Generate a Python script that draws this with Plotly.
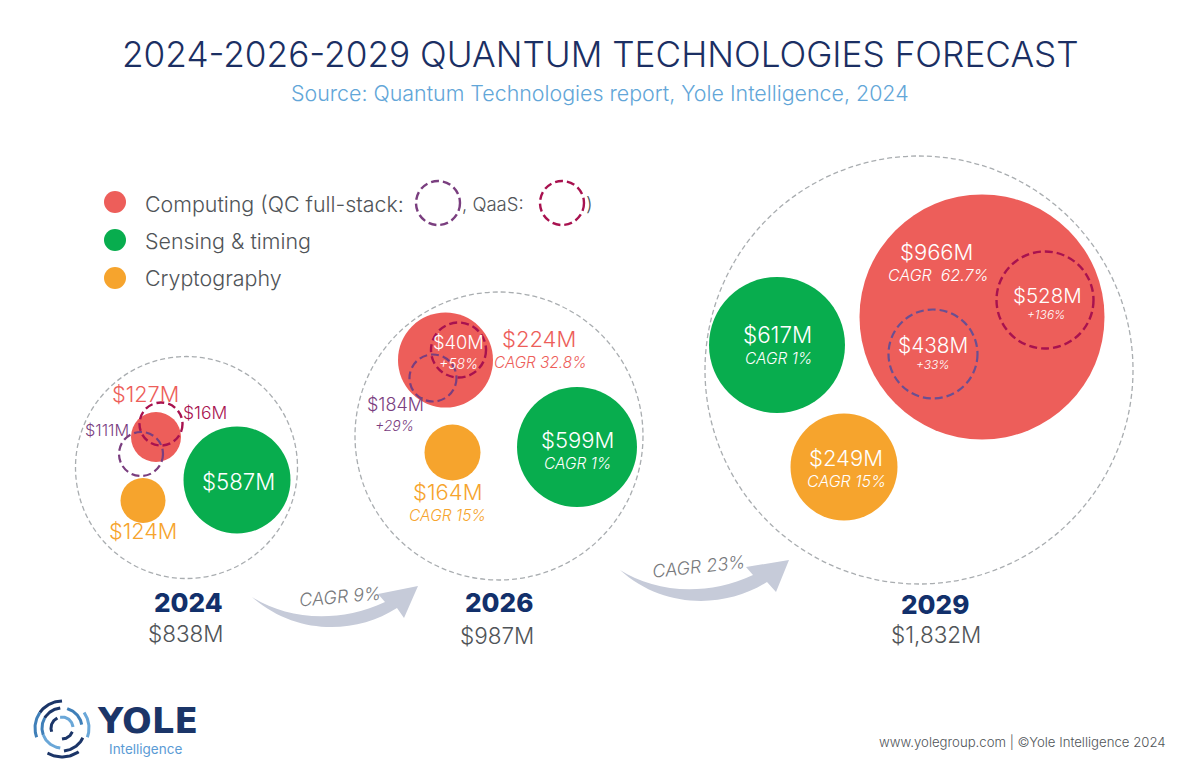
import numpy as np
import plotly.graph_objects as go

# ── values ──
years = ["2024", "2026", "2029"]
totals = ["$838M", "$987M", "$1,832M"]
computing = [127, 224, 966]
sensing = [587, 599, 617]
cryptography = [124, 164, 249]
qc_full_stack = [111, 184, 438]
qaas = [16, 40, 528]
legend_names = ["Computing (QC full-stack:", "Sensing & timing", "Cryptography"]
total_cagr = ["CAGR 9%", "CAGR 23%"]

# ── bubble placement in page pixels (x, y, diameter) ──
computing_pos = [(156, 437, 50), (445.5, 360, 95), (982, 317, 245)]
sensing_pos = [(237, 480, 107), (577, 447, 120), (777, 345, 136)]
crypto_pos = [(143, 500.5, 45), (452.5, 452.5, 56), (844, 467, 107)]
qc_pos = [(141, 454, 44), (433, 378, 47), (933, 354, 89)]
qaas_pos = [(161, 424, 43), (458.5, 350, 55), (1045, 300, 97)]
outer_pos = [(186.5, 467.5, 222), (499, 436, 288), (919, 370, 428)]

RED = "#ed5e5a"
GREEN = "#08ad4e"
ORANGE = "#f6a42d"
PURPLE = "#7a3e7f"
CRIMSON = "#a8124f"
NAVY = "#1b2f63"
GREY_TEXT = "#505458"
FONT = "Inter"

fig = go.Figure()


def bolas(pos, color):
    fig.add_trace(go.Scatter(
        x=[p[0] for p in pos], y=[p[1] for p in pos], mode="markers",
        marker=dict(size=[p[2] for p in pos], color=color, opacity=1, line_width=0),
        hoverinfo="skip", showlegend=False,
    ))


def aro(x, y, d, color, width, dash):
    fig.add_shape(type="circle", xref="x", yref="y",
                  x0=x - d / 2, x1=x + d / 2, y0=y - d / 2, y1=y + d / 2,
                  line=dict(color=color, width=width, dash=dash), layer="above")


def texto(x, y, s, size, color, italic=False, weight=300, anchor="center", angle=0, family=FONT):
    fig.add_annotation(
        x=x, y=y, xref="x", yref="y", text=s, showarrow=False, xanchor=anchor,
        yanchor="middle", textangle=angle,
        font=dict(family=family, size=size, color=color, weight=weight,
                  style="italic" if italic else "normal"),
    )


def arco(r, a0, a1, color, width=3):
    # trocito del logo
    t = np.radians(np.linspace(a0, a1, 30))
    fig.add_trace(go.Scatter(
        x=62 + r * np.cos(t), y=728 - r * np.sin(t), mode="lines",
        line=dict(color=color, width=width), hoverinfo="skip", showlegend=False,
    ))


# ── circles ──
bolas(computing_pos, RED)
bolas(sensing_pos, GREEN)
bolas(crypto_pos, ORANGE)
bolas([(115, 202, 22)], RED)
bolas([(115, 240, 22)], GREEN)
bolas([(115, 278, 22)], ORANGE)

for x, y, d in outer_pos:
    aro(x, y, d, "#a9adb0", 1.3, "5px,3px")
for i, (x, y, d) in enumerate(qc_pos):
    aro(x, y, d, PURPLE if i < 2 else "#6a4f92", 2.2, "8px,4px")
for x, y, d in qaas_pos:
    aro(x, y, d, CRIMSON, 2.4, "8px,4px")
aro(438, 203, 44, PURPLE, 2.4, "8px,4px")
aro(562, 203, 44, CRIMSON, 2.4, "8px,4px")

# ── growth arrows ──
fig.add_shape(type="path", xref="x", yref="y", fillcolor="#c6cbd9", line_width=0,
              path="M252,597 C285,618 335,625 385,602 L378,594 L418,586 L404,618 "
                   "L397,608 C355,635 295,635 252,597 Z")
fig.add_shape(type="path", xref="x", yref="y", fillcolor="#c6cbd9", line_width=0,
              path="M620,570 C653,591 703,598 753,575 L746,567 L789,560 L776,592 "
                   "L767,582 C725,609 663,609 620,570 Z")

# ── header and legend ──
texto(600, 54, "2024-2026-2029 QUANTUM TECHNOLOGIES FORECAST", 35.2, NAVY)
texto(600, 93, "Source: Quantum Technologies report, Yole Intelligence, 2024", 21.4, "#62a6d8")
texto(143, 204, legend_names[0], 21.4, GREY_TEXT, anchor="left")
texto(460, 204, ", QaaS:", 18.5, GREY_TEXT, anchor="left")
texto(584, 204, ")", 19, GREY_TEXT, anchor="left")
texto(143, 241, legend_names[1], 21.4, GREY_TEXT, anchor="left")
texto(143, 278, legend_names[2], 21.4, GREY_TEXT, anchor="left")

# ── 2024 labels ──
texto(145, 394, f"${computing[0]}M", 21.7, RED)
texto(205, 412, f"${qaas[0]}M", 17.5, CRIMSON)
texto(107, 430, f"${qc_full_stack[0]}M", 16.3, PURPLE)
texto(238, 481, f"${sensing[0]}M", 22.2, "white")
texto(143, 531, f"${cryptography[0]}M", 21.7, ORANGE)

# ── 2026 labels ──
texto(539, 339, f"${computing[1]}M", 22, RED)
texto(540, 362, "CAGR 32.8%", 15.3, RED, italic=True)
texto(458, 342, f"${qaas[1]}M", 18.3, "white")
texto(458, 363, "+58%", 14, "white", italic=True)
texto(395, 404, f"${qc_full_stack[1]}M", 18, PURPLE)
texto(394, 425, "+29%", 14, PURPLE, italic=True)
texto(577, 440, f"${sensing[1]}M", 22, "white")
texto(577, 463, "CAGR 1%", 15.5, "white", italic=True)
texto(447, 492, f"${cryptography[1]}M", 22, ORANGE)
texto(447, 515, "CAGR 15%", 15.6, ORANGE, italic=True)

# ── 2029 labels ──
texto(936, 252, f"${computing[2]}M", 22, "white")
texto(938, 275, "CAGR  62.7%", 16, "white", italic=True)
texto(1047, 295, f"${qaas[2]}M", 20.5, "white")
texto(1046, 314, "+136%", 12, "white", italic=True)
texto(933, 345, f"${qc_full_stack[2]}M", 20.8, "white")
texto(933, 364, "+33%", 12, "white", italic=True)
texto(777, 334, f"${sensing[2]}M", 22.4, "white")
texto(778, 358, "CAGR 1%", 15.5, "white", italic=True)
texto(846, 458, f"${cryptography[2]}M", 22, "white")
texto(846, 481, "CAGR 15%", 16, "white", italic=True)

# ── years and totals ──
for x, y, year, x2, y2, total in zip([188, 499, 935], [602, 602, 604], years,
                                     [186, 497, 936], [633, 635, 634], totals):
    texto(x, y, year, 26, "#12306b", weight=800)
    texto(x2, y2, total, 22.5, GREY_TEXT)

texto(340, 596, total_cagr[0], 18, "#77797c", italic=True, angle=-5)
texto(698, 566, total_cagr[1], 18, "#77797c", italic=True, angle=-6)

# ── logo and footer ──
LIGHT = "#6aa7d8"
MID = "#3f7fb8"
DARK = "#1b3568"
arco(27, 90, 145, DARK)
arco(27, 145, 200, MID)
arco(27, 35, -20, LIGHT)
arco(29, -120, -55, DARK)
arco(20, 95, 150, DARK)
arco(20, 150, 200, MID)
arco(20, 200, 265, LIGHT)
arco(23, -85, -25, DARK)
arco(20, 75, 10, MID)
arco(11, 115, 200, DARK)
arco(11, 100, 5, LIGHT)
arco(11, -20, -90, DARK)
texto(95, 721, "YOLE", 35, DARK, weight=800, anchor="left", family="DejaVu Sans")
texto(107, 748.5, "Intelligence", 13.5, "#5b9bd5", weight=400, anchor="left")
texto(1168, 742, "www.yolegroup.com | ©Yole Intelligence 2024", 13.2, GREY_TEXT, anchor="right")

# el body de la página trae 8px de margen, se descuenta en los rangos
fig.update_layout(
    width=1192, height=767, margin=dict(l=0, r=0, t=0, b=0),
    paper_bgcolor="white", plot_bgcolor="white",
    xaxis=dict(range=[8, 1200], visible=False, fixedrange=True),
    yaxis=dict(range=[775, 8], visible=False, fixedrange=True),
)

fig.write_html("out.html")
